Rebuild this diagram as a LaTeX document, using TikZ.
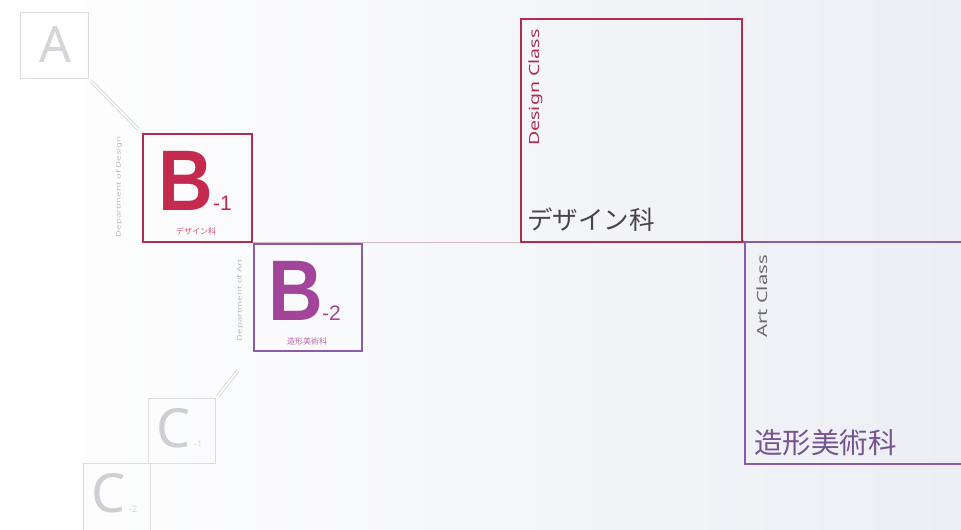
\documentclass[tikz,border=0pt]{standalone}
\usepackage{fontspec}
\setmainfont{Noto Sans}
\newfontfamily\jp{Noto Sans CJK JP}
\newfontfamily\helv{Liberation Sans}
\definecolor{crim}{HTML}{C42A4E}
\definecolor{crimline}{HTML}{B02C50}
\definecolor{purp}{HTML}{A2449A}
\definecolor{purpline}{HTML}{8A5CA8}
\definecolor{faint}{HTML}{D6D6DA}
\definecolor{faintline}{HTML}{DCDCE0}
\definecolor{jptext}{HTML}{4A4448}
\definecolor{jppurp}{HTML}{75558F}
\definecolor{bgright}{HTML}{ECEEF4}
\tikzset{
  box/.style={draw, rectangle, anchor=north west, inner sep=0pt, line width=1.5pt},
  ghost/.style={box, draw=faintline, line width=1.4pt},
  dlink/.style={draw=faint, double=white, double distance=1.6pt, line width=0.9pt},
  vlabel/.style={rotate=90, anchor=west, inner sep=0pt},
  tiny/.style={rotate=90, anchor=center, inner sep=0pt, font=\fontsize{6}{6}\selectfont, text=gray!55},
  bigB/.style={anchor=base west, inner sep=0pt, text depth=0pt, font=\helv\bfseries\fontsize{86}{86}\selectfont},
  subnum/.style={anchor=base west, inner sep=0pt, font=\helv\fontsize{21}{21}\selectfont},
}
\begin{document}
\begin{tikzpicture}[x=1pt,y=-1pt]
\useasboundingbox (0,0) rectangle (961,530);
\clip (0,0) rectangle (961,530);
\fill[left color=white, right color=bgright] (0,0) rectangle (961,530);

% Box A
\node[ghost, minimum width=68pt, minimum height=66pt] (A) at (20,12) {};
\node[text=faint, font=\fontsize{50}{50}\selectfont, inner sep=0pt] (Aletter) at (55,45) {A};

% B-1
\node[box, draw=crimline, minimum width=109pt, minimum height=108pt] (B1) at (142,133) {};
\node[bigB, text=crim] (B1letter) at (158,210) {\scalebox{0.88}[1]{B}};
\node[subnum, text=crim] (B1sub) at (213,210) {-1};
\node[inner sep=0pt, text=crim!80, font=\jp\fontsize{8}{8}\selectfont] (B1jp) at (196,231) {デザイン科};
\node[tiny] (B1dep) at (119,187) {\scalebox{1.6}[1]{Department of Design}};

% B-2
\node[box, draw=purpline, minimum width=108pt, minimum height=107pt] (B2) at (253,243) {};
\node[bigB, text=purp] (B2letter) at (268,320) {\scalebox{0.88}[1]{B}};
\node[subnum, text=purp] (B2sub) at (322,320) {-2};
\node[inner sep=0pt, text=purp!80, font=\jp\fontsize{8}{8}\selectfont] (B2jp) at (307,341) {造形美術科};
\node[tiny] (B2dep) at (240,300) {\scalebox{1.6}[1]{Department of Art}};

% Design Class
\node[box, draw=crimline, minimum width=221pt, minimum height=223pt] (D) at (520,18) {};
\node[vlabel, text=crimline, font=\fontsize{14}{14}\selectfont] (Dlab) at (536,146) {\scalebox{1.4}[1]{Design Class}};
\node[anchor=base west, inner sep=0pt, text=jptext, font=\jp\fontsize{25.5}{25.5}\selectfont] (Djp) at (527,229) {デザイン科};

% Art Class
\node[box, draw=purpline, minimum width=240pt, minimum height=222pt] (Art) at (744,241) {};
\node[vlabel, text=jptext!80, font=\fontsize{14}{14}\selectfont] (Artlab) at (762,338) {\scalebox{1.45}[1]{Art Class}};
\node[anchor=base west, inner sep=0pt, text=jppurp, font=\jp\fontsize{28.5}{28.5}\selectfont] (Artjp) at (754,453) {造形美術科};

% C boxes
\node[ghost, minimum width=67pt, minimum height=65pt] (C1) at (148,398) {};
\node[anchor=base west, inner sep=0pt, text=faint!120, font=\fontsize{54}{54}\selectfont] (C1letter) at (156,447) {C};
\node[anchor=base west, inner sep=0pt, text=faint, font=\fontsize{9}{9}\selectfont] (C1sub) at (194,447) {-1};
\node[ghost, minimum width=67pt, minimum height=80pt] (C2) at (83,463) {};
\node[anchor=base west, inner sep=0pt, text=faint!120, font=\fontsize{54}{54}\selectfont] (C2letter) at (91,512) {C};
\node[anchor=base west, inner sep=0pt, text=faint, font=\fontsize{9}{9}\selectfont] (C2sub) at (129,512) {-2};

% connectors
\draw[dlink, shorten <=2pt, shorten >=5pt] (A.south east) -- (B1.north west);
\draw[draw=faintline!80!crimline, line width=1pt] (B1.south east) -- (D.south west);
\draw[draw=crimline, line width=1.5pt] (D.south east) -- (Art.north west);
\draw[dlink, shorten <=24pt, shorten >=2pt] (B2.south west) -- (C1.north east);
\end{tikzpicture}
\end{document}
